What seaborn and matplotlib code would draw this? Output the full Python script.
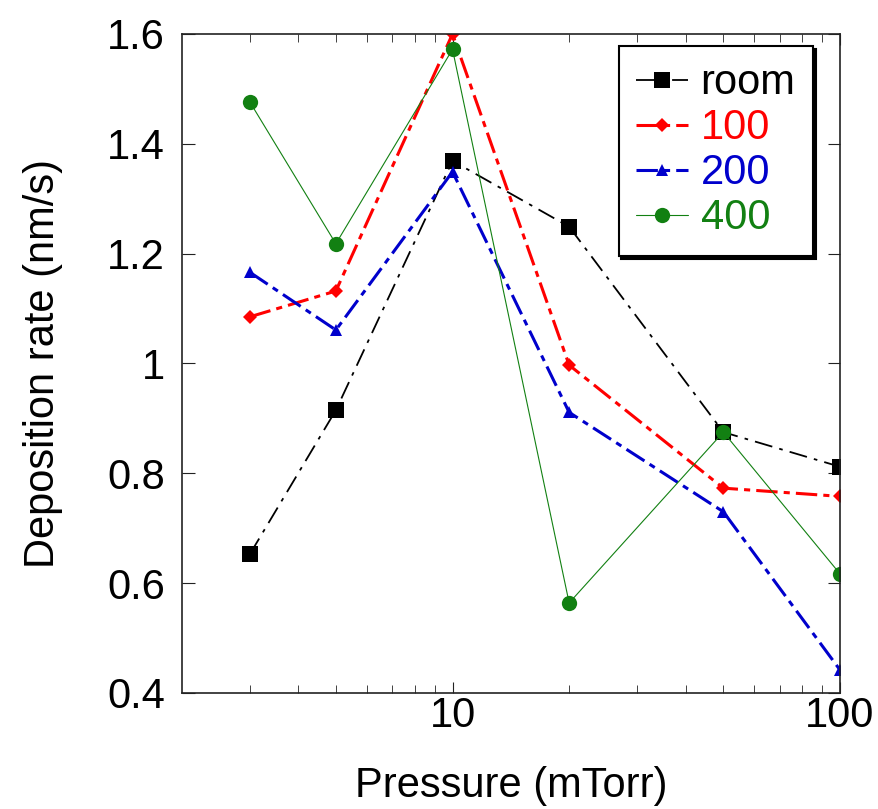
import pandas as pd
import matplotlib.pyplot as plt
import matplotlib.ticker as mticker
import seaborn as sns
import numpy as np

# pressure (mTorr) and deposition rate (nm/s) per substrate temperature
pressure = [3, 5, 10, 20, 50, 100]
rate_room = [0.653, 0.915, 1.369, 1.249, 0.875, 0.812]
rate_100 = [1.085, 1.132, 1.600, 0.997, 0.773, 0.758]
rate_200 = [1.166, 1.061, 1.349, 0.911, 0.730, 0.442]
rate_400 = [1.476, 1.218, 1.572, 0.564, 0.875, 0.617]

series_names = ["room", "100", "200", "400"]
y_ticks = [0.4, 0.6, 0.8, 1.0, 1.2, 1.4, 1.6]
y_tick_labels = ["0.4", "0.6", "0.8", "1", "1.2", "1.4", "1.6"]

sns.set_style("ticks")
plt.rcParams['font.family'] = ['Liberation Sans', 'DejaVu Sans']
plt.rcParams['text.color'] = 'black'
plt.rcParams['axes.labelcolor'] = 'black'
plt.rcParams['xtick.labelcolor'] = 'black'
plt.rcParams['ytick.labelcolor'] = 'black'

fig = plt.figure(figsize=(8.79, 8.09), dpi=100)
ax = fig.add_axes([0.2067, 0.1434, 0.7489, 0.8146])

styles = {
    "room": dict(color="black", marker="s", markersize=12, linewidth=1.3, dashes=(10, 4, 2, 4)),
    "100": dict(color="#ff0000", marker="D", markersize=7, linewidth=2.2, dashes=(7, 2, 2, 2)),
    "200": dict(color="#0000cc", marker="^", markersize=9, linewidth=2.2, dashes=(7, 2, 2, 2)),
    "400": dict(color="#128012", marker="o", markersize=11, linewidth=0.8, dashes=None),
}
values = {"room": rate_room, "100": rate_100, "200": rate_200, "400": rate_400}

for name in series_names:
    st = styles[name]
    sns.lineplot(x=pressure, y=values[name], ax=ax, color=st["color"],
                 marker=st["marker"], markersize=st["markersize"],
                 linewidth=st["linewidth"], markeredgewidth=0,
                 label=name)
    l = ax.lines[-1]
    if st["dashes"] is not None:
        l.set_dashes(st["dashes"])

ax.set_xscale("log")
ax.set_xlim(2, 100)
ax.set_ylim(0.4, 1.6)
ax.xaxis.set_major_locator(mticker.FixedLocator([10, 100]))
ax.xaxis.set_major_formatter(mticker.FixedFormatter(["10", "100"]))
ax.xaxis.set_minor_locator(mticker.FixedLocator([3, 4, 5, 6, 7, 8, 9, 20, 30, 40, 50, 60, 70, 80, 90]))
ax.xaxis.set_minor_formatter(mticker.NullFormatter())
ax.set_yticks(y_ticks)
ax.set_yticklabels(y_tick_labels)

ax.tick_params(which='both', direction='in', top=True, right=True, labelsize=30,
               color='#222222', labelcolor='black')
ax.tick_params(axis='y', which='major', length=9, pad=12)
ax.tick_params(axis='x', which='major', length=8, pad=2)
ax.tick_params(axis='x', which='minor', length=6)
for s in ax.spines.values():
    s.set_linewidth(1.2)
    s.set_color('#222222')

ax.set_xlabel("Pressure (mTorr)", fontsize=30, labelpad=22)
ax.set_ylabel("Deposition rate (nm/s)", fontsize=30, labelpad=32)

leg = ax.legend(loc="upper right", bbox_to_anchor=(0.959, 0.982), borderaxespad=0,
                fontsize=30, handlelength=1.25, handletextpad=0.3, labelspacing=0.12,
                fancybox=False, frameon=True, edgecolor='black', framealpha=1,
                shadow={'color': 'black', 'alpha': 1}, borderpad=0.42)
leg.get_frame().set_linewidth(1.5)
for text, name in zip(leg.get_texts(), series_names):
    text.set_color(styles[name]["color"])

fig.savefig("out.png", dpi=100)
